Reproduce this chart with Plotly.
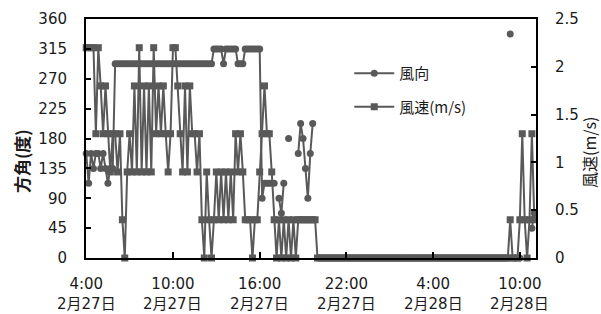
import pandas as pd
import plotly.graph_objects as go

# ---- data (10-minute records, 2/27 4:00 -> 2/28 11:00) ----
wind_dir = [
    157.5, 112.5, 157.5, 135, 157.5, 157.5, 135, 157.5, 135, 112.5,
    135, 135, 292.5, 292.5, 292.5, 292.5, 292.5, 292.5, 292.5, 292.5,
    292.5, 292.5, 292.5, 292.5, 292.5, 292.5, 292.5, 292.5, 292.5, 292.5,
    292.5, 292.5, 292.5, 292.5, 292.5, 292.5, 292.5, 292.5, 292.5, 292.5,
    292.5, 292.5, 292.5, 292.5, 292.5, 292.5, 292.5, 292.5, 292.5, 292.5,
    292.5, 292.5, 292.5, 315, 315, 315, 315, 292.5, 315, 315,
    315, 315, 315, 292.5, 292.5, 292.5, 315, 315, 315, 315,
    315, 315, 315, 90, 112.5, 112.5, 112.5, 112.5, 112.5, None,
    90, 67.5, 112.5, None, 180, None, None, None, 157.5, 202.5,
    180, 135, 90, 157.5, 202.5, None, None, None, None, None,
    None, None, None, None, None, None, None, None, None, None,
    None, None, None, None, None, None, None, None, None, None,
    None, None, None, None, None, None, None, None, None, None,
    None, None, None, None, None, None, None, None, None, None,
    None, None, None, None, None, None, None, None, None, None,
    None, None, None, None, None, None, None, None, None, None,
    None, None, None, None, None, None, None, None, None, None,
    None, None, None, None, None, None, 337.5, None, None, None,
    0, None, None, None, None, 45, 67.5,
]

wind_speed = [
    2.2, 2.2, 2.2, 2.2, 1.3, 2.2, 1.8, 1.3, 1.8, 1.3,
    0.9, 1.3, 1.3, 0.9, 1.3, 0.4, 0, 0.9, 1.3, 0.9,
    1.8, 0.9, 2.2, 0.9, 1.8, 0.9, 1.8, 0.9, 2.2, 1.3,
    1.8, 1.3, 1.8, 1.3, 0.9, 1.3, 2.2, 2.2, 1.8, 1.3,
    0.9, 1.8, 0.9, 1.8, 1.3, 1.3, 0.9, 1.3, 0.4, 0,
    0.9, 0.4, 0, 0.4, 0.9, 0.4, 0.9, 0.4, 0.9, 0.4,
    0.9, 0.4, 1.3, 0.9, 1.3, 0.9, 0.4, 0.4, 0.4, 0,
    0.4, 0.4, 0.9, 1.3, 1.8, 1.3, 1.3, 0.9, 0.4, 0,
    0.4, 0, 0.4, 0, 0.4, 0, 0.4, 0, 0.4, 0.4,
    0.4, 0.4, 0.4, 0.4, 0.4, 0.4, 0, 0, 0, 0,
    0, 0, 0, 0, 0, 0, 0, 0, 0, 0,
    0, 0, 0, 0, 0, 0, 0, 0, 0, 0,
    0, 0, 0, 0, 0, 0, 0, 0, 0, 0,
    0, 0, 0, 0, 0, 0, 0, 0, 0, 0,
    0, 0, 0, 0, 0, 0, 0, 0, 0, 0,
    0, 0, 0, 0, 0, 0, 0, 0, 0, 0,
    0, 0, 0, 0, 0, 0, 0, 0, 0, 0,
    0, 0, 0, 0, 0, 0, 0.4, 0, 0, 0,
    0.4, 1.3, 0.4, 0, 0.4, 1.3, 0.4,
]

times = pd.date_range("2024-02-27 04:00", periods=len(wind_speed), freq="10min")

tick_times = ["2024-02-27 04:00", "2024-02-27 10:00", "2024-02-27 16:00",
              "2024-02-27 22:00", "2024-02-28 04:00", "2024-02-28 10:00"]
tick_time_labels = ["4:00", "10:00", "16:00", "22:00", "4:00", "10:00"]
tick_date_labels = ["2月27日", "2月27日", "2月27日", "2月27日", "2月28日", "2月28日"]

dir_ticks = [0, 45, 90, 135, 180, 225, 270, 315, 360]
speed_ticks = [0, 0.5, 1, 1.5, 2, 2.5]

x_range = ["2024-02-27 03:59", "2024-02-28 11:07"]

GRAY = "#595959"
FONT = "DejaVu Sans, Noto Sans CJK JP, sans-serif"
CJK = "Noto Sans CJK JP, sans-serif"
TXT = "#1a1a1a"

fig = go.Figure()
fig.add_trace(go.Scatter(
    x=times, y=wind_dir, name="風向", legendgroup="a",
    mode="lines+markers", line=dict(color=GRAY, width=2),
    marker=dict(symbol="circle", size=7, color=GRAY),
    cliponaxis=False, yaxis="y",
))
fig.add_trace(go.Scatter(
    x=times, y=wind_speed, name="風速(m/s)", legendgroup="b",
    mode="lines+markers", line=dict(color=GRAY, width=2),
    marker=dict(symbol="square", size=7, color=GRAY),
    cliponaxis=False, yaxis="y2",
))

annotations = [
    dict(text="<b>方角(度)</b>", textangle=-90, xref="paper", yref="paper",
         x=-0.142, y=0.406, xanchor="center", yanchor="middle", showarrow=False,
         font=dict(family=CJK, size=17, color=TXT)),
    dict(text="風速(m/s)", textangle=-90, xref="paper", yref="paper",
         x=1.118, y=0.44, xanchor="center", yanchor="middle", showarrow=False,
         font=dict(family=CJK, size=16, color=TXT)),
]
for t, lab in zip(tick_times, tick_date_labels):
    annotations.append(dict(text=lab, x=t, xref="x", y=-0.194, yref="paper",
                            xanchor="center", yanchor="middle", showarrow=False,
                            font=dict(family=FONT, size=15, color=TXT)))

fig.update_layout(
    width=601, height=314,
    margin=dict(l=86, r=65, t=19, b=56, autoexpand=False),
    paper_bgcolor="white", plot_bgcolor="white",
    font=dict(family=FONT, size=15, color=TXT),
    showlegend=True,
    legend=dict(x=0.585, y=0.841, xanchor="left", yanchor="top",
                bgcolor="rgba(0,0,0,0)", itemwidth=40, tracegroupgap=11,
                font=dict(family=CJK, size=15, color=TXT)),
    xaxis=dict(
        type="date", range=x_range, automargin=False,
        tickvals=tick_times, ticktext=tick_time_labels,
        ticks="inside", ticklen=6, tickwidth=2, tickcolor="black",
        showline=True, linecolor="black", linewidth=2, mirror=True,
        showgrid=False, zeroline=False, ticklabelstandoff=11,
        tickfont=dict(family=FONT, size=15, color=TXT),
    ),
    yaxis=dict(
        range=[0, 360], tickvals=dir_ticks, automargin=False,
        ticks="inside", ticklen=5, tickwidth=2, tickcolor="black",
        showline=True, linecolor="black", linewidth=2,
        showgrid=False, zeroline=False, ticklabelstandoff=14,
        tickfont=dict(family=FONT, size=15, color=TXT),
    ),
    yaxis2=dict(
        range=[0, 2.5], tickvals=speed_ticks, overlaying="y", side="right",
        automargin=False,
        ticks="inside", ticklen=5, tickwidth=2, tickcolor="black",
        showline=True, linecolor="black", linewidth=2,
        showgrid=False, zeroline=False, ticklabelstandoff=14,
        tickfont=dict(family=FONT, size=15, color=TXT),
    ),
    annotations=annotations,
)

# remove the browser's default 8px page margin so the 601x314 figure fills the window
fig.write_html(
    "out.html",
    config={"displayModeBar": False},
    post_script="document.body.style.margin='0';document.body.style.overflow='hidden';",
)
